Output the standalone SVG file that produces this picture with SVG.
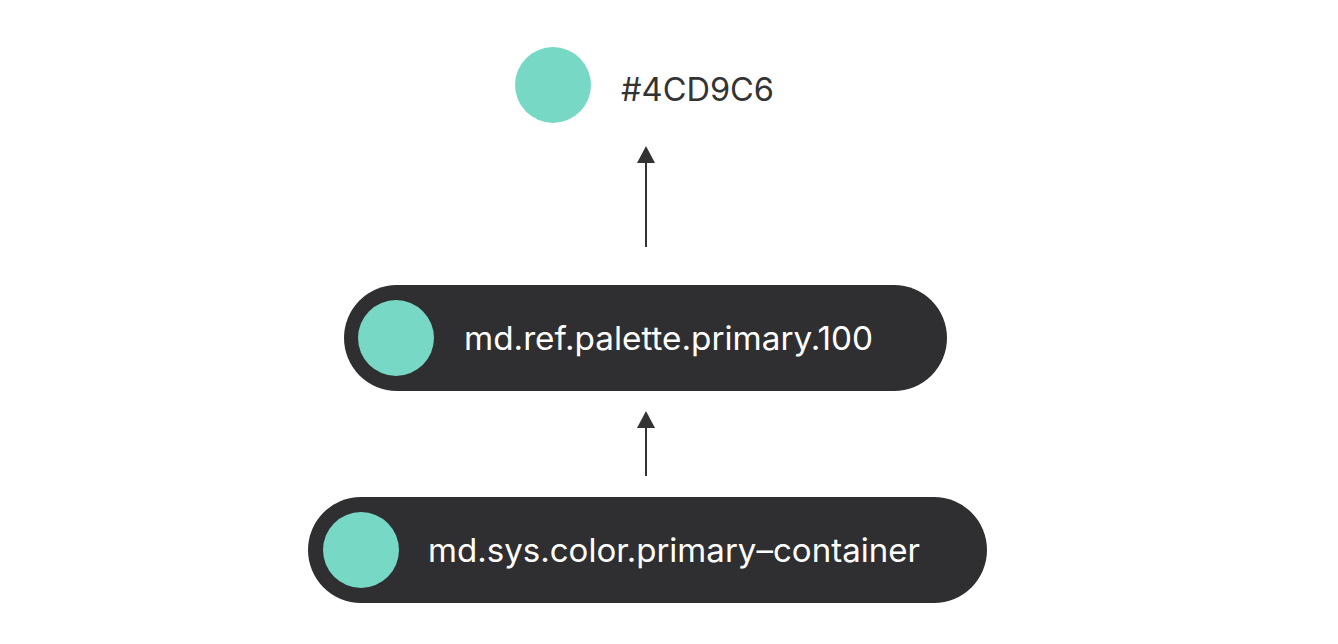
<svg xmlns="http://www.w3.org/2000/svg" width="1338" height="644" viewBox="0 0 1338 644">
<style>
.dot{fill:#78d8c6}
.pill{fill:#2f2f31}
.lbl{font-family:"Inter","Liberation Sans",sans-serif;font-size:32.5px;fill:#ffffff}
.hex{font-family:"Inter","Liberation Sans",sans-serif;font-size:32px;fill:#333333}
.edge{stroke:#333333;stroke-width:2;fill:none}
</style>
<rect width="1338" height="644" fill="#ffffff"/>
<g id="connectors">
<line class="edge" x1="646" y1="247" x2="646" y2="162"/>
<path d="M646,146 L655,163 L637,163 Z" fill="#333333"/>
<line class="edge" x1="646" y1="476" x2="646" y2="427"/>
<path d="M646,411 L655,428 L637,428 Z" fill="#333333"/>
</g>
<g id="node-hex">
<circle class="dot" cx="553" cy="85" r="38"/>
<text class="hex" x="621" y="101" textLength="153" lengthAdjust="spacingAndGlyphs">#4CD9C6</text>
</g>
<g id="node-ref">
<rect class="pill" x="344" y="285" width="603" height="106" rx="53"/>
<circle class="dot" cx="396" cy="338" r="38"/>
<text class="lbl" x="464" y="350" textLength="409" lengthAdjust="spacingAndGlyphs">md.ref.palette.primary.100</text>
</g>
<g id="node-sys">
<rect class="pill" x="308" y="497" width="679" height="106" rx="53"/>
<circle class="dot" cx="361" cy="550" r="38"/>
<text class="lbl" x="428" y="562" textLength="492" lengthAdjust="spacingAndGlyphs">md.sys.color.primary–container</text>
</g>
</svg>
